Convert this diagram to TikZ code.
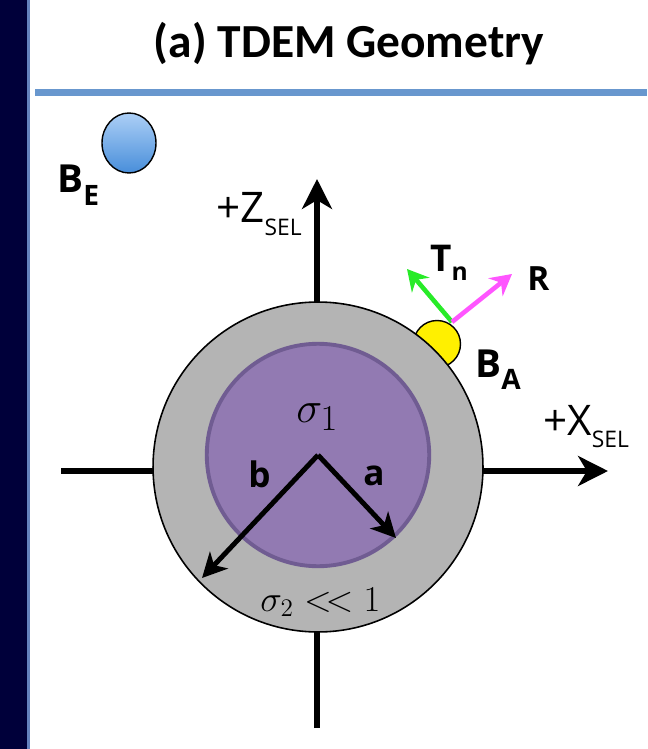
\documentclass[tikz,border=0pt]{standalone}
\usepackage{fontspec}
\setmainfont{Open Sans}
\newfontfamily\titlefont{Carlito}
\usetikzlibrary{arrows.meta, positioning, calc, shapes.geometric}

\definecolor{navyband}{RGB}{0,0,58}
\definecolor{bandedge}{RGB}{100,130,190}
\definecolor{rulecol}{RGB}{104,151,206}
\definecolor{shellgray}{RGB}{180,180,180}
\definecolor{corefill}{RGB}{146,122,178}
\definecolor{coreedge}{RGB}{112,92,146}
\definecolor{tngreen}{RGB}{40,235,40}
\definecolor{rmagenta}{RGB}{255,85,255}
\definecolor{sensoryellow}{RGB}{255,240,0}
\definecolor{belight}{RGB}{172,207,246}
\definecolor{bedark}{RGB}{72,142,218}

% lowered, smaller subscript in text font: size, drop, text
\newcommand{\lowsub}[3]{\raisebox{-#2}{\fontsize{#1}{#1}\selectfont #3}}

\begin{document}
\begin{tikzpicture}[
    x=0.02cm, y=-0.02cm,
    axisline/.style={line width=3.4pt, -{Stealth[length=17pt,width=17pt,inset=5pt]}},
    rarrow/.style={line width=2.8pt, -{Stealth[length=14pt,width=14pt,inset=4pt]}},
    field/.style={line width=2.6pt, -{Stealth[length=12pt,width=13pt,inset=4pt]}},
    shell/.style={circle, draw=black, line width=0.9pt, fill=shellgray,
        minimum size=6.6cm, inner sep=0pt},
    core/.style={circle, draw=coreedge, line width=2.2pt, fill=corefill,
        minimum size=4.45cm, inner sep=0pt},
    sensor/.style={circle, draw=black, line width=0.8pt, fill=sensoryellow,
        minimum size=0.94cm, inner sep=0pt},
    receiver/.style={ellipse, draw=black, line width=0.8pt,
        top color=belight, bottom color=bedark,
        minimum width=1.08cm, minimum height=1.2cm, inner sep=0pt},
    title/.style={font=\titlefont\fontsize{27}{27}\selectfont\bfseries, inner sep=0pt},
    axislabel/.style={font=\fontsize{24}{24}\selectfont, inner sep=0pt},
    bigbold/.style={font=\fontsize{22}{22}\selectfont\bfseries, inner sep=0pt},
    radlabel/.style={font=\fontsize{20}{20}\selectfont\bfseries, inner sep=0pt},
]
\useasboundingbox (0,0) rectangle (647,749);

% frame: left band and title rule
\fill[navyband] (0,0) rectangle (27,749);
\fill[bandedge] (27,0) rectangle (30,749);
\fill[rulecol] (35,89) rectangle (647,96);

\node[title, anchor=base] (title) at (349,58) {(a) TDEM Geometry};

% axes
\coordinate (ztop) at (317,179);
\coordinate (zbot) at (317,728);
\coordinate (xleft) at (61,471);
\coordinate (xright) at (608,471);
\draw[axisline] (zbot) -- (ztop);
\draw[axisline] (xleft) -- (xright);

% sensor on the surface, then the body
\node[sensor] (ba) at (437,344) {};
\node[shell] (shell) at (318,467) {};
\node[core] (core) at (318,455) {};

% radii
\coordinate (o) at (318,455);
\coordinate (atip) at (396,538);
\coordinate (btip) at (202,578);
\draw[rarrow] (o) -- (atip);
\draw[rarrow] (o) -- (btip);

% transmitter / receiver directions
\coordinate (bapt) at (452,322);
\coordinate (tntip) at (407,269);
\coordinate (rtip) at (512,274);
\draw[field, tngreen] (bapt) -- (tntip);
\draw[field, rmagenta] (bapt) -- (rtip);

% external receiver
\node[receiver] (be) at (129,143) {};

% labels
\node[bigbold, anchor=base west] (belabel) at (57,193) {B\lowsub{16}{7pt}{E}};
\node[bigbold, anchor=base west] (balabel) at (475,377) {B\lowsub{16}{7pt}{A}};
\node[bigbold, anchor=base west, font=\fontsize{21}{21}\selectfont\bfseries] (tnlabel) at (430,272) {T\lowsub{14}{5pt}{n}};
\node[bigbold, anchor=base west, font=\fontsize{19}{19}\selectfont\bfseries] (rlabel) at (527,291) {R};
\node[axislabel, anchor=base west] (zlabel) at (216,223) {+Z\lowsub{13}{7pt}{SEL}};
\node[axislabel, anchor=base west] (xlabel) at (543,435) {+X\lowsub{13}{7pt}{SEL}};
\node[radlabel, anchor=base west] (blabel) at (248,487) {b};
\node[radlabel, anchor=base west] (alabel) at (363,485) {a};
\node[inner sep=0pt, anchor=base west, font=\fontsize{28}{28}\selectfont] (sigone) at (296,422) {$\sigma_1$};
\node[inner sep=0pt, anchor=base west, font=\fontsize{22}{22}\selectfont] (sigtwo) at (260,611) {$\sigma_2 \mathrel{<\mkern-3mu<} 1$};

\end{tikzpicture}
\end{document}
